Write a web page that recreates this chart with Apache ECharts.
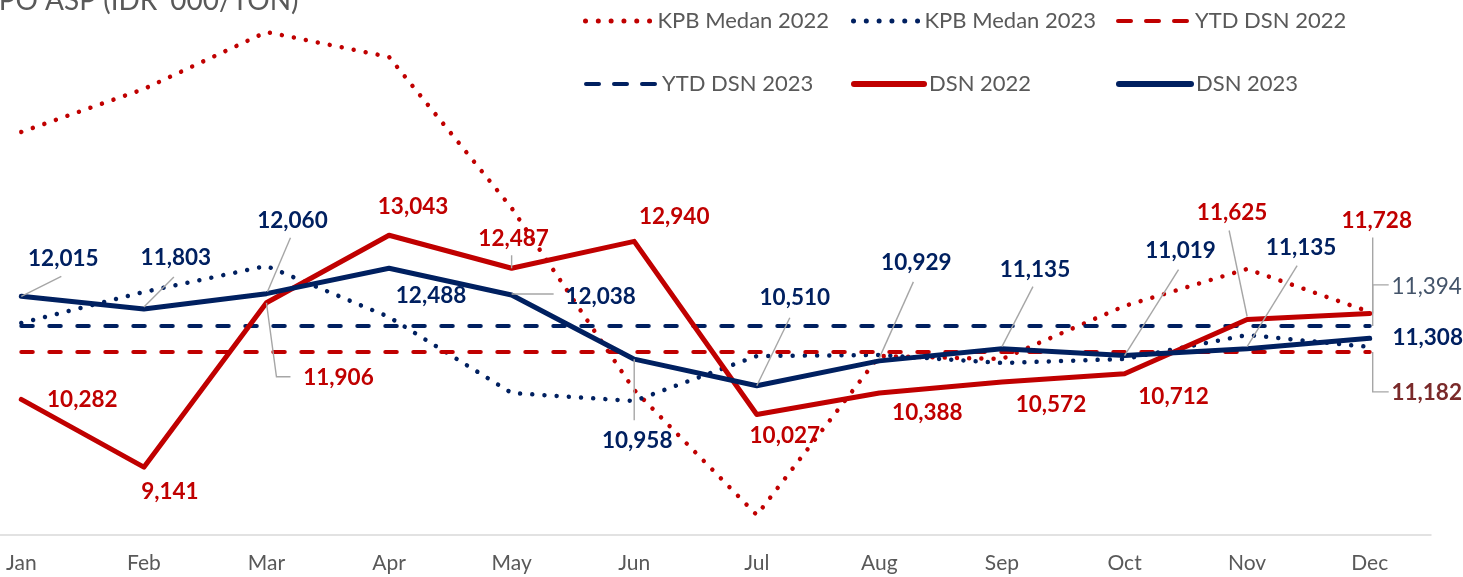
<!DOCTYPE html>
<html><head><meta charset="utf-8">
<script src="https://cdn.jsdelivr.net/npm/echarts@6/dist/echarts.min.js"></script>
<style>html,body{margin:0;padding:0;background:#fff;overflow:hidden}#c{width:1463px;height:577px}</style>
</head><body><div id="c"></div><script>
// ---- data ----
const months = ['Jan','Feb','Mar','Apr','May','Jun','Jul','Aug','Sep','Oct','Nov','Dec'];
const kpbMedan2022 = [14780, 15503, 16462, 16042, 13501, 10439, 8336, 11011, 10961, 11853, 12475, 11752];
const kpbMedan2023 = [11567, 12088, 12526, 11667, 10389, 10254, 11011, 11028, 10894, 10961, 11365, 11163];
const ytdDsn2022 = [11182, 11182, 11182, 11182, 11182, 11182, 11182, 11182, 11182, 11182, 11182, 11182];
const ytdDsn2023 = [11394, 11394, 11394, 11394, 11394, 11394, 11394, 11394, 11394, 11394, 11394, 11394];
const dsn2022 = [10282, 9141, 11906, 13043, 12487, 12940, 10027, 10388, 10572, 10712, 11625, 11728];
const dsn2023 = [12015, 11803, 12060, 12488, 12038, 10958, 10510, 10929, 11135, 11019, 11135, 11308];
const seriesNames = ['KPB Medan 2022','KPB Medan 2023','YTD DSN 2022','YTD DSN 2023','DSN 2022','DSN 2023'];
const titleText = "CPO ASP (IDR '000/TON)";

// ---- style ----
const RED = '#C00000', NAVY = '#002060', GREY = '#595959', LEAD = '#A6A6A6';
const FONT = 'Lato';
const DOT = [0.01, 12.2];
const DASH = [11.5, 16.5];

// label placement (offset of label centre from its point, leader points relative to point)
const dsn2022Lab = [
  {d:[61,0]}, {d:[26,25]}, {d:[72,75], l:[[0,0],[10,74],[24,74]]}, {d:[24,-28]},
  {d:[2,-30], l:[[0,0],[0,-13]]}, {d:[40,-25]}, {d:[28,21]}, {d:[48,20]},
  {d:[49,23]}, {d:[49,23]}, {d:[-15,-107], l:[[0,-3],[-18,-89]]}, {d:[7,-93], l:[[3,0],[3,-76]]}
];
const dsn2023Lab = [
  {d:[42,-38], l:[[0,0],[40,-20]]}, {d:[32,-51], l:[[0,-2],[30,-32]]}, {d:[26,-73], l:[[1,-2],[24,-56]]},
  {d:[42,28]}, {d:[89,2], l:[[0,-1],[42,-1]]}, {d:[3,82], l:[[0,0],[0,61]]},
  {d:[38,-88], l:[[0,0],[33,-68]]}, {d:[37,-98], l:[[0,-3],[34,-79]]}, {d:[33,-79], l:[[0,-2],[31,-62]]},
  {d:[56,-105], l:[[0,0],[54,-86]]}, {d:[54,-101], l:[[0,-2],[50,-83]]}, {d:[58,-1]}
];

function lineSeries(name, data, color, type, width, yIdx) {
  return {
    name, type: 'line', data, yAxisIndex: yIdx, smooth: false, symbol: 'none',
    lineStyle: {color, type, width, cap: 'round', join: 'round'},
    itemStyle: {color}, emphasis: {disabled: true}, silent: true, animation: false
  };
}

function legend(name, left, top, w, color, type, width) {
  return {
    data: [name], left, top, itemWidth: w, itemHeight: 14, padding: 0, selectedMode: false,
    textStyle: {fontSize: 22, color: GREY, fontFamily: FONT},
    lineStyle: {color, type, width, cap: 'round'}, itemStyle: {opacity: 0}
  };
}

const chart = echarts.init(document.getElementById('c'), null, {renderer: 'canvas'});
chart.setOption({
  animation: false,
  backgroundColor: '#fff',
  grid: {left: -40, right: 32, top: 0, bottom: 42, containLabel: false, outerBoundsMode: 'none'},
  xAxis: {
    type: 'category', data: months, boundaryGap: true,
    axisLine: {lineStyle: {color: '#D9D9D9', width: 1.5}},
    axisTick: {show: false}, splitLine: {show: false},
    axisLabel: {fontSize: 21, color: GREY, fontFamily: FONT, margin: 18}
  },
  yAxis: [
    {type: 'value', min: 8000, max: 17000, show: false, splitLine: {show: false}},
    {type: 'value', min: 9690, max: 14050, show: false, splitLine: {show: false}}
  ],
  legend: [
    legend(seriesNames[0], 583, 10, 67, RED, [0.01, 12.8], 5),
    legend(seriesNames[1], 851, 10, 66, NAVY, [0.01, 12.8], 5),
    legend(seriesNames[2], 1116, 10, 72, RED, [13, 15], 4),
    legend(seriesNames[3], 584, 73, 71, NAVY, [13, 15], 4),
    legend(seriesNames[4], 851, 73, 70, RED, 'solid', 6),
    legend(seriesNames[5], 1116, 73, 72, NAVY, 'solid', 6)
  ],
  series: [
    lineSeries(seriesNames[0], kpbMedan2022, RED, DOT, 4.5, 0),
    lineSeries(seriesNames[1], kpbMedan2023, NAVY, DOT, 4.5, 0),
    lineSeries(seriesNames[2], ytdDsn2022, RED, DASH, 4, 1),
    lineSeries(seriesNames[3], ytdDsn2023, NAVY, DASH, 4, 1),
    lineSeries(seriesNames[4], dsn2022, RED, 'solid', 5, 0),
    lineSeries(seriesNames[5], dsn2023, NAVY, 'solid', 5, 0)
  ]
});

const fmt = v => v.toLocaleString('en-US');
const els = [];
els.push({type: 'text', x: -20, y: 1, z: 100, silent: true,
  style: {text: titleText, fill: GREY, fontSize: 28, fontFamily: FONT, align: 'left', verticalAlign: 'middle'}});

function addLabels(values, yIdx, specs, color, weight) {
  values.forEach((v, i) => {
    const s = specs[i];
    if (!s) return;
    const p = chart.convertToPixel({xAxisIndex: 0, yAxisIndex: yIdx}, [i, v]);
    if (s.l) {
      els.push({type: 'polyline', z: 90, silent: true,
        shape: {points: s.l.map(q => [p[0] + q[0], p[1] + q[1]])},
        style: {stroke: LEAD, lineWidth: 1.4, fill: null}});
    }
    els.push({type: 'text', x: p[0] + s.d[0], y: p[1] + s.d[1], z: 100, silent: true,
      style: {text: fmt(v), fill: color, fontSize: 22.5, fontWeight: weight, fontFamily: FONT,
        align: 'center', verticalAlign: 'middle'}});
  });
}
addLabels(dsn2022, 0, dsn2022Lab, RED, 'bold');
addLabels(dsn2023, 0, dsn2023Lab, NAVY, 'bold');
const ytd23Lab = []; ytd23Lab[11] = {d:[57,-39], l:[[3,0],[3,-41],[19,-41]]};
const ytd22Lab = []; ytd22Lab[11] = {d:[57,41], l:[[3,0],[3,40],[19,40]]};
addLabels(ytdDsn2023, 1, ytd23Lab, '#44546A', 'normal');
addLabels(ytdDsn2022, 1, ytd22Lab, '#7A2A2A', 'bold');

chart.setOption({graphic: {elements: els}});
</script></body></html>
